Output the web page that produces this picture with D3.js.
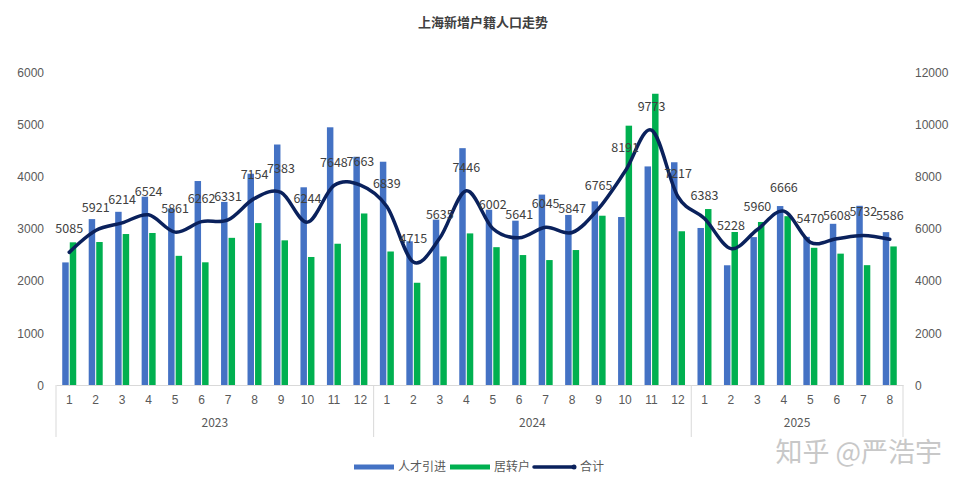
<!DOCTYPE html>
<html><head><meta charset="utf-8">
<script src="https://cdn.jsdelivr.net/npm/d3@7/dist/d3.min.js"></script>
<style>
html,body{margin:0;padding:0;background:#fff;}
svg{display:block;font-family:"Microsoft YaHei","Noto Sans CJK SC","DejaVu Sans",sans-serif;}
</style></head>
<body><svg id="c" width="966" height="487"></svg>
<script>
const years = ["2023","2024","2025"];
const monthsPerYear = [12,12,8];
const months = ["1","2","3","4","5","6","7","8","9","10","11","12",
                "1","2","3","4","5","6","7","8","9","10","11","12",
                "1","2","3","4","5","6","7","8"];
const talent = [2350,3180,3320,3610,3385,3910,3510,4050,4610,3790,4940,4375,
                4280,2755,3170,4540,3360,3150,3650,3260,3520,3220,4190,4270,
                3010,2295,2835,3430,2840,3090,3435,2930];
const transfer = [2735,2741,2894,2914,2476,2352,2821,3104,2773,2454,2708,3288,
                  2559,1960,2465,2906,2642,2491,2395,2587,3245,4971,5583,2947,
                  3373,2933,3125,3236,2630,2518,2297,2656];
const total = [5085,5921,6214,6524,5861,6262,6331,7154,7383,6244,7648,7663,
               6839,4715,5635,7446,6002,5641,6045,5847,6765,8191,9773,7217,
               6383,5228,5960,6666,5470,5608,5732,5586];
const leftTicks = [0,1000,2000,3000,4000,5000,6000];
const rightTicks = [0,2000,4000,6000,8000,10000,12000];
const seriesNames = ["人才引进","居转户","合计"];
const title = "上海新增户籍人口走势";

const svg = d3.select("#c");
const L = 56, R = 903, T = 72, B = 385;
const idx = d3.range(months.length);
const x = d3.scaleBand().domain(idx).range([L,R]).padding(0);
const bw = x.bandwidth();
const xin = d3.scaleBand().domain(["t","g"]).range([-7,7]).paddingInner(0.14);
const yL = d3.scaleLinear().domain([0,6000]).range([B,T]);
const yR = d3.scaleLinear().domain([0,12000]).range([B,T]);
const cx = i => x(i) + bw/2;

const blue = "#4472C4", green = "#00B050", navy = "#0A215C";

// title
svg.append("text").attr("x",483).attr("y",27).attr("text-anchor","middle")
  .attr("font-size",13).attr("font-weight","bold").attr("fill","#404040").text(title);

// left axis
const gl = svg.append("g").attr("transform",`translate(${L-9},0)`)
  .call(d3.axisLeft(yL).tickValues(leftTicks).tickSize(0).tickFormat(d3.format("d")));
gl.select(".domain").remove();
gl.selectAll("text").attr("font-size",12).attr("fill","#595959").attr("dy","0.35em");

// right axis
const gr = svg.append("g").attr("transform",`translate(${R+9},0)`)
  .call(d3.axisRight(yR).tickValues(rightTicks).tickSize(0).tickFormat(d3.format("d")));
gr.select(".domain").remove();
gr.selectAll("text").attr("font-size",12).attr("fill","#595959").attr("dy","0.35em");

// bars
svg.append("g").selectAll("rect.t").data(idx).join("rect")
  .attr("x",i=>cx(i)+xin("t")).attr("width",xin.bandwidth())
  .attr("y",i=>yL(talent[i])).attr("height",i=>B-yL(talent[i])).attr("fill",blue);
svg.append("g").selectAll("rect.g").data(idx).join("rect")
  .attr("x",i=>cx(i)+xin("g")).attr("width",xin.bandwidth())
  .attr("y",i=>yL(transfer[i])).attr("height",i=>B-yL(transfer[i])).attr("fill",green);

// category axis
const gx = svg.append("g").attr("transform",`translate(0,${B})`)
  .call(d3.axisBottom(x).tickSize(0).tickPadding(10).tickFormat(i=>months[i]));
gx.select(".domain").attr("stroke","#d9d9d9");
gx.selectAll("text").attr("font-size",12).attr("fill","#595959");

let start = 0;
const seps = [L];
years.forEach((yr,k)=>{
  const n = monthsPerYear[k];
  const x0 = x(start), x1 = (start+n < months.length) ? x(start+n) : R;
  svg.append("text").attr("x",(x0+x1)/2).attr("y",427).attr("text-anchor","middle")
    .attr("font-size",12).attr("fill","#595959").text(yr);
  seps.push(x1);
  start += n;
});
svg.append("g").selectAll("line").data(seps).join("line")
  .attr("x1",d=>d).attr("x2",d=>d).attr("y1",B).attr("y2",437)
  .attr("stroke","#d9d9d9").attr("stroke-width",1);

// line
const line = d3.line().x(i=>cx(i)).y(i=>yR(total[i])).curve(d3.curveCardinal.tension(0));
svg.append("path").attr("d",line(idx)).attr("fill","none")
  .attr("stroke",navy).attr("stroke-width",3.5).attr("stroke-linecap","round");

// labels
svg.append("g").selectAll("text").data(idx).join("text")
  .attr("x",i=>cx(i)).attr("y",i=>yR(total[i])-19)
  .attr("text-anchor","middle").attr("font-size",12.5).attr("fill","#404040")
  .text(i=>total[i]);

// legend
const lg = svg.append("g").attr("transform","translate(354,467)");
lg.append("rect").attr("x",0).attr("y",-2.5).attr("width",40).attr("height",5).attr("fill",blue);
lg.append("text").attr("x",44).attr("y",0).attr("dy","0.35em").attr("font-size",12).attr("fill","#595959").text(seriesNames[0]);
lg.append("rect").attr("x",96).attr("y",-2.5).attr("width",40).attr("height",5).attr("fill",green);
lg.append("text").attr("x",140).attr("y",0).attr("dy","0.35em").attr("font-size",12).attr("fill","#595959").text(seriesNames[1]);
lg.append("line").attr("x1",180).attr("x2",220).attr("y1",0).attr("y2",0).attr("stroke",navy).attr("stroke-width",3.5).attr("stroke-linecap","round");
lg.append("circle").attr("cx",220).attr("cy",0).attr("r",2.5).attr("fill",navy);
lg.append("text").attr("x",226).attr("y",0).attr("dy","0.35em").attr("font-size",12).attr("fill","#595959").text(seriesNames[2]);

// watermark
svg.append("text").attr("x",942).attr("y",462).attr("text-anchor","end")
  .attr("font-size",27).attr("fill","#c8c8c8").text("知乎 @严浩宇");
</script></body></html>
